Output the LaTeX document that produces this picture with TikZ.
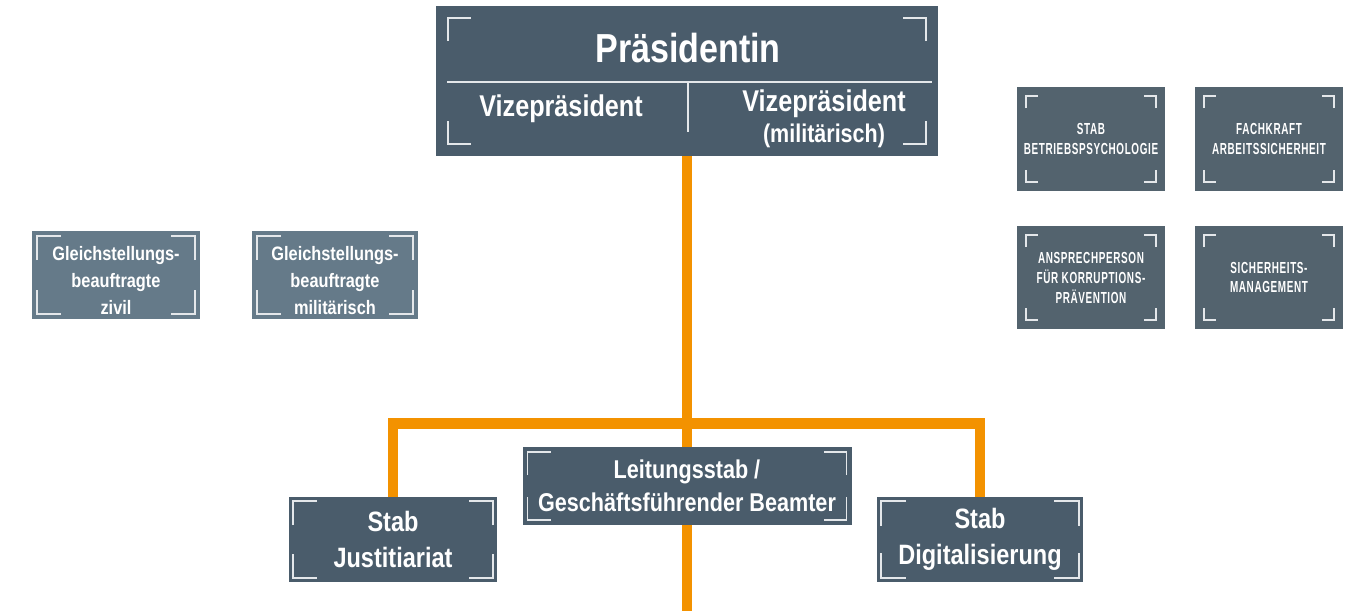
\documentclass[tikz,border=0pt]{standalone}
\usepackage{fontspec}
\setmainfont{Liberation Sans}[FakeStretch=0.84]
\newfontfamily\capsfont{Liberation Sans}[FakeStretch=0.62,LetterSpace=4]

\definecolor{slate}{RGB}{74,92,107}
\definecolor{slategray}{RGB}{83,99,110}
\definecolor{paleslate}{RGB}{101,122,137}
\definecolor{linkorange}{RGB}{243,146,0}
\definecolor{cornergray}{RGB}{228,231,234}

% corner marks of a box: node, inset, arm (in px)
\newcommand{\boxcorners}[3]{%
  \draw[cornerline] ([shift={(#2,#2+#3)}]#1.north west) -- ++(0,-#3) -- ++(#3,0);
  \draw[cornerline] ([shift={(-#2,#2+#3)}]#1.north east) -- ++(0,-#3) -- ++(-#3,0);
  \draw[cornerline] ([shift={(#2,-#2-#3)}]#1.south west) -- ++(0,#3) -- ++(#3,0);
  \draw[cornerline] ([shift={(-#2,-#2-#3)}]#1.south east) -- ++(0,#3) -- ++(-#3,0);
}

\tikzset{every picture/.style={line width=0.75pt}}
\tikzset{
  orgbox/.style={rectangle, fill=slate, text=white, inner sep=0pt, outer sep=0pt, align=center, font=\bfseries},
  boxsize/.style 2 args={minimum width=#1*0.75pt, minimum height=#2*0.75pt},
  orgline/.style={draw=linkorange, line width=8pt},
  cornerline/.style={draw=cornergray, line width=1.4pt},
  divline/.style={draw=cornergray, line width=1pt},
}

\begin{document}
\begin{tikzpicture}[x=0.75pt,y=0.75pt,yscale=-1,xscale=1]
	\useasboundingbox (0,0) rectangle (1354,611);

	%Shape: Rectangle [Praesidentin]
	\node[orgbox, boxsize={502}{150}] (praes) at (687,81) {};
	\boxcorners{praes}{12}{23}
	\draw[divline] (447,82) -- (932,82);
	\draw[divline] (688,82) -- (688,132);
	% Text Node
	\node[anchor=base, text=white, font=\bfseries\fontsize{30.4}{36}\selectfont] (ptitle) at (688,62) {Präsidentin};
	% Text Node
	\node[anchor=base, text=white, font=\bfseries\fontsize{22.5}{27}\selectfont] (vize) at (561,116) {Vizepräsident};
	% Text Node
	\node[anchor=base, text=white, font=\bfseries\fontsize{22.5}{27}\selectfont] (vizemil) at (824,111) {Vizepräsident};
	% Text Node
	\node[anchor=base, text=white, font=\bfseries\fontsize{19.2}{23}\selectfont] (vizemilb) at (824,142) {(militärisch)};

	%Shape: Rectangle [Gleichstellungsbeauftragte]
	\node[orgbox, fill=paleslate, boxsize={168}{88}, font=\bfseries\fontsize{14.6}{20.3}\selectfont] (gzivil) at (116,275) {\rule{0pt}{19pt}Gleichstellungs-\\beauftragte\\zivil};
	\boxcorners{gzivil}{5}{24}
	\node[orgbox, fill=paleslate, boxsize={166}{88}, font=\bfseries\fontsize{14.6}{20.3}\selectfont] (gmil) at (335,275) {\rule{0pt}{19pt}Gleichstellungs-\\beauftragte\\militärisch};
	\boxcorners{gmil}{5}{24}

	%Shape: Rectangle [Stabsstellen rechts]
	\node[orgbox, fill=slategray, boxsize={148}{104}, font=\capsfont\bfseries\fontsize{12}{14.6}\selectfont] (psych) at (1091,139) {STAB\\BETRIEBSPSYCHOLOGIE};
	\boxcorners{psych}{9}{12}
	\node[orgbox, fill=slategray, boxsize={148}{104}, font=\capsfont\bfseries\fontsize{12}{14.6}\selectfont] (fachkraft) at (1269,139) {FACHKRAFT\\ARBEITSSICHERHEIT};
	\boxcorners{fachkraft}{9}{12}
	\node[orgbox, fill=slategray, boxsize={148}{103}, font=\capsfont\bfseries\fontsize{12}{15}\selectfont] (korrupt) at (1091,277.5) {ANSPRECHPERSON\\FÜR KORRUPTIONS-\\PRÄVENTION};
	\boxcorners{korrupt}{9}{12}
	\node[orgbox, fill=slategray, boxsize={148}{103}, font=\capsfont\bfseries\fontsize{12}{14.6}\selectfont] (sicher) at (1269,277.5) {SICHERHEITS-\\MANAGEMENT};
	\boxcorners{sicher}{9}{12}

	%Shape: Rectangle [Staebe unten]
	\node[orgbox, boxsize={329}{78}, font=\bfseries\fontsize{19.3}{24.75}\selectfont] (leitung) at (687,486) {Leitungsstab /\\Geschäftsführender Beamter};
	\boxcorners{leitung}{5}{23}
	\node[orgbox, boxsize={208}{85}, font=\bfseries\fontsize{21}{27}\selectfont] (justi) at (393,539.5) {Stab\\Justitiariat};
	\boxcorners{justi}{4}{24}
	\node[orgbox, boxsize={206}{85}, font=\bfseries\fontsize{21}{27}\selectfont] (digital) at (980,539.5) {Stab\\Digitalisierung};
	\boxcorners{digital}{4}{25}

	%Straight Lines [Verbindungen]
	\coordinate (bar) at (687,423.5);
	\coordinate (trunkend) at (687,611);
	\draw[orgline] (praes.south) -- (leitung.north);
	\draw[orgline] (leitung.south) -- (trunkend);
	\draw[orgline] (justi.north) |- (bar) -| (digital.north);

\end{tikzpicture}
\end{document}
